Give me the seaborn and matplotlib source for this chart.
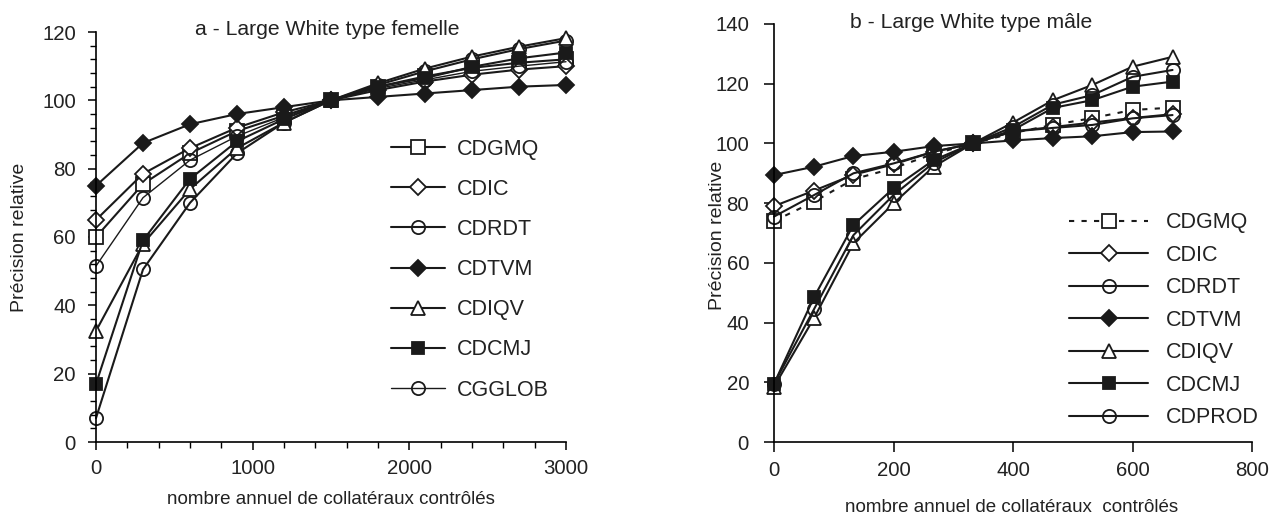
import numpy as np
import pandas as pd
import matplotlib
matplotlib.use("Agg")
import matplotlib.pyplot as plt
from matplotlib.ticker import MultipleLocator
import seaborn as sns

# ---------------- data ----------------
x_a = [0, 300, 600, 900, 1200, 1500, 1800, 2100, 2400, 2700, 3000]
a_CDGMQ  = [60, 75.5, 84.5, 91, 95.5, 100, 104, 107, 109.5, 111, 112]
a_CDIC   = [65, 78.5, 86, 92, 96.5, 100, 103, 105.5, 107.5, 109, 110]
a_CDRDT  = [7, 50.5, 70, 84.5, 93.5, 100, 104.5, 108.5, 112, 115, 117.5]
a_CDTVM  = [75, 87.5, 93, 96, 98, 100, 101, 102, 103, 104, 104.5]
a_CDIQV  = [32.5, 58, 74, 86, 93.5, 100, 105, 109.3, 112.8, 115.7, 118.2]
a_CDCMJ  = [17, 59, 77, 88, 94.5, 100, 104, 106.5, 109.8, 112.3, 114]
a_CGGLOB = [51.5, 71.5, 82.5, 89.5, 95, 100, 103.5, 106, 108.5, 110, 111.3]

x_b = [0, 67, 133, 200, 267, 333, 400, 467, 533, 600, 667]
b_CDGMQ  = [74, 80.5, 88, 91.7, 96.5, 100, 103.5, 106.2, 108.5, 111.2, 112]
b_CDIC   = [79, 84.2, 89.5, 93, 97.2, 100, 104, 105.5, 107, 108.5, 109.8]
b_CDRDT  = [75.5, 82.7, 90, 93.3, 97.2, 100, 104, 105.2, 106.2, 108.4, 109.5]
b_CDTVM  = [89.4, 92.2, 95.8, 97.2, 99.1, 100, 101, 101.8, 102.4, 103.8, 104]
b_CDIQV  = [18.5, 41.5, 66.6, 79.9, 92.2, 100, 107, 114.5, 119.6, 125.7, 129]
b_CDCMJ  = [19.5, 48.5, 72.7, 85, 94.4, 100, 104.5, 111.9, 114.5, 119, 120.7]
b_CDPROD = [19.5, 44.5, 69.3, 82.7, 93.5, 100, 105.5, 113, 116.2, 122.3, 124.6]

title_a = "a - Large White type femelle"
title_b = "b - Large White type mâle"
ylabel = "Précision relative"
xlabel_a = "nombre annuel de collatéraux contrôlés"
xlabel_b = "nombre annuel de collatéraux  contrôlés"

# ---------------- style ----------------
sns.set_theme(style="ticks")
plt.rcParams["font.family"] = ["Liberation Sans", "DejaVu Sans"]
plt.rcParams["axes.edgecolor"] = "black"
plt.rcParams["xtick.color"] = "black"
plt.rcParams["ytick.color"] = "black"
plt.rcParams["text.color"] = "#222222"
plt.rcParams["xtick.labelcolor"] = "#222222"
plt.rcParams["ytick.labelcolor"] = "#222222"

K = "#1a1a1a"
styles = {
    "CDGMQ":  dict(marker="s", markersize=9.5, mfc="white", mec=K, lw=1.5),
    "CDIC":   dict(marker="D", markersize=8, mfc="white", mec=K, lw=1.5),
    "CDRDT":  dict(marker="o", markersize=9.5, mfc="none", mec=K, lw=1.5),
    "CDTVM":  dict(marker="D", markersize=8.5, mfc=K, mec=K, lw=1.5),
    "CDIQV":  dict(marker="^", markersize=10.5, mfc="white", mec=K, lw=1.5),
    "CDCMJ":  dict(marker="s", markersize=8, mfc=K, mec=K, lw=1.5),
    "CGGLOB": dict(marker="o", markersize=9.5, mfc="none", mec=K, lw=1.0),
    "CDPROD": dict(marker="o", markersize=9.5, mfc="none", mec=K, lw=1.5),
}

fig = plt.figure(figsize=(12.69, 5.18), dpi=100)
ax1 = fig.add_axes([96/1269, 1-442/518, (566-96)/1269, (442-32)/518])
ax2 = fig.add_axes([774/1269, 1-442/518, (1252-774)/1269, (442-24)/518])

series_a = [("CDGMQ", a_CDGMQ), ("CDIC", a_CDIC), ("CDRDT", a_CDRDT), ("CDTVM", a_CDTVM),
            ("CDIQV", a_CDIQV), ("CDCMJ", a_CDCMJ), ("CGGLOB", a_CGGLOB)]
series_b = [("CDGMQ", b_CDGMQ), ("CDIC", b_CDIC), ("CDRDT", b_CDRDT), ("CDTVM", b_CDTVM),
            ("CDIQV", b_CDIQV), ("CDCMJ", b_CDCMJ), ("CDPROD", b_CDPROD)]

for name, vals in series_a:
    st = styles[name]
    sns.lineplot(x=x_a, y=vals, ax=ax1, color=K, label=name, marker=st["marker"],
                 markersize=st["markersize"], markerfacecolor=st["mfc"],
                 markeredgecolor=st["mec"], markeredgewidth=1.3, linewidth=st["lw"])

for name, vals in series_b:
    st = styles[name]
    ls = (0, (2.5, 3.5)) if name == "CDGMQ" else "-"
    sns.lineplot(x=x_b, y=vals, ax=ax2, color=K, label=name, marker=st["marker"],
                 markersize=st["markersize"], markerfacecolor=st["mfc"],
                 markeredgecolor=st["mec"], markeredgewidth=1.3, linewidth=st["lw"],
                 linestyle=ls)

# ---------------- axes ----------------
ax1.set_xlim(0, 3000)
ax1.set_ylim(0, 120)
ax1.xaxis.set_major_locator(MultipleLocator(1000))
ax1.xaxis.set_minor_locator(MultipleLocator(200))
ax1.yaxis.set_major_locator(MultipleLocator(20))
ax1.yaxis.set_minor_locator(MultipleLocator(4))
ax1.tick_params(which="major", length=6, width=1.1, labelsize=14.7)
ax1.tick_params(axis="x", which="major", pad=6)
ax1.tick_params(axis="y", which="major", pad=8.5)
ax1.tick_params(which="minor", length=4, width=1.0)

ax2.set_xlim(0, 800)
ax2.set_ylim(0, 140)
ax2.xaxis.set_major_locator(MultipleLocator(200))
ax2.yaxis.set_major_locator(MultipleLocator(20))
ax2.tick_params(which="major", length=7, width=1.1, labelsize=14.7)
ax2.tick_params(axis="x", which="major", pad=7)
ax2.tick_params(axis="y", which="major", pad=11)

for ax in (ax1, ax2):
    sns.despine(ax=ax)
    for s in ("left", "bottom"):
        ax.spines[s].set_linewidth(1.2)
        ax.spines[s].set_color("black")
    ax.set_xlabel("")
    ax.set_ylabel("")
    for l in ax.lines:
        l.set_clip_on(False)

leg1 = ax1.legend(loc="upper left", bbox_to_anchor=(0.628, 0.74), frameon=False,
                  fontsize=15.5, handlelength=2.5, handletextpad=0.55, labelspacing=0.89,
                  borderpad=0, borderaxespad=0)
leg2 = ax2.legend(loc="upper left", bbox_to_anchor=(0.618, 0.55), frameon=False,
                  fontsize=15.5, handlelength=3.65, handletextpad=0.85, labelspacing=0.535,
                  borderpad=0, borderaxespad=0)

fig.text(327/1269, 1-35/518, title_a, ha="center", va="baseline", fontsize=15.2)
fig.text(971/1269, 1-28/518, title_b, ha="center", va="baseline", fontsize=15.2)
fig.text(20/1269, 1-237/518, ylabel, rotation=90, ha="center", va="center", fontsize=14)
fig.text(718/1269, 1-235/518, ylabel, rotation=90, ha="center", va="center", fontsize=14)
fig.text(331/1269, 1-500/518, xlabel_a, ha="center", va="center", fontsize=13.5)
fig.text(1012/1269, 1-508/518, xlabel_b, ha="center", va="center", fontsize=13.5)

fig.savefig("out.png", dpi=100, facecolor="white")
